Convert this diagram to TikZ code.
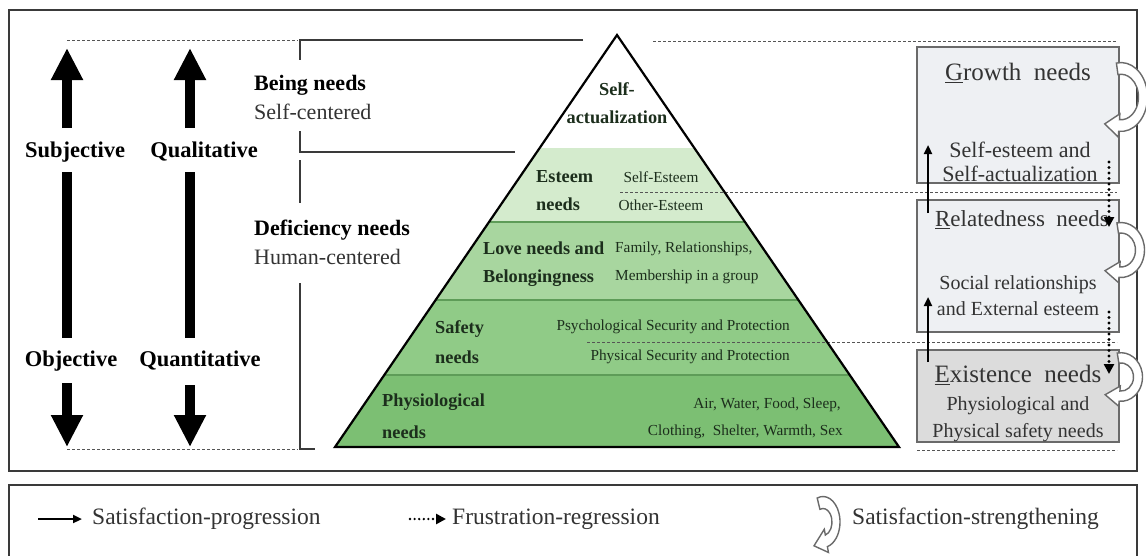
\documentclass[tikz,border=0pt]{standalone}
\usepackage{fontspec}
\setmainfont{Liberation Serif}
\usetikzlibrary{arrows.meta,calc}
\definecolor{framec}{HTML}{3A3A3A}
\definecolor{dashc}{HTML}{555555}
\definecolor{esteemc}{HTML}{D4EBCD}
\definecolor{lovec}{HTML}{A8D69F}
\definecolor{safec}{HTML}{90CB87}
\definecolor{physc}{HTML}{7CBF73}
\definecolor{layerc}{HTML}{5E9C58}
\definecolor{ptext}{HTML}{1C2E1C}
\definecolor{boxfill}{HTML}{EEF0F3}
\definecolor{exfill}{HTML}{DCDCDC}
\definecolor{boxline}{HTML}{6A6A6A}
\definecolor{greytext}{HTML}{333333}
\newcommand\hollowcurve[7]{%
\begin{scope}[shift={(#1,#2)},yscale=#7]
\filldraw[curvestyle] (#5:{#3+#4/2}) arc[start angle=#5,end angle=#6,radius={#3+#4/2}]
 -- (#6:{#3+#4}) -- ($(#6:#3)+({#6+90}:{1.6*#4})$) -- (#6:{#3-#4})
 -- (#6:{#3-#4/2}) arc[start angle=#6,end angle=#5,radius={#3-#4/2}] -- cycle;
\end{scope}}
\tikzset{
 curvestyle/.style={fill=white,draw=boxline,line width=1.4pt,line join=miter},
 frame/.style={draw=framec,line width=2.4pt},
 dsh/.style={draw=dashc,line width=1pt,dash pattern=on 3pt off 2pt},
 brk/.style={draw=framec,line width=2pt},
 bigarrow/.style={line width=9.5pt,-{Triangle[width=30pt,length=32pt]}},
 bigshaft/.style={line width=9.5pt},
 thinarrow/.style={line width=2.2pt,-{Triangle[width=8pt,length=9pt]}},
 dotarrow/.style={line width=3.4pt,dash pattern=on 0pt off 5.5pt,line cap=round,-{Triangle[width=10pt,length=10pt,line cap=butt]}},
 lbl/.style={font=\fontsize{22.5}{26}\selectfont\bfseries,inner sep=0pt},
 side/.style={inner sep=0pt,align=left,text=black,font=\fontsize{22}{29}\selectfont},
 pbold/.style={inner sep=0pt,text=ptext,font=\fontsize{18.3}{28}\selectfont\bfseries},
 psmall/.style={inner sep=0pt,text=ptext,font=\fontsize{15.3}{28}\selectfont},
 ergbox/.style={draw=boxline,line width=2pt,fill=boxfill,minimum width=202pt,inner sep=0pt},
 rtext/.style={inner sep=0pt,text=greytext,align=center},
 legtext/.style={inner sep=0pt,text=greytext,anchor=west,font=\fontsize{23.5}{26}\selectfont},
}
\begin{document}
\begin{tikzpicture}[x=1pt,y=-1pt]
\useasboundingbox (0,0) rectangle (1146,555);
\fill[white] (0,0) rectangle (1146,555);
% frames
\draw[frame] (9,10) rectangle (1137,471);
\draw[frame] (9,485) rectangle (1137,580);

% left labels and arrows
\node[lbl] (subj) at (75,152) {Subjective};
\node[lbl] (qual) at (204,152) {Qualitative};
\node[lbl] (obj) at (71,361) {Objective};
\node[lbl] (quan) at (200,361) {Quantitative};
\coordinate (s1) at (67,128); \coordinate (s0) at (67,48);
\coordinate (s2) at (67,172); \coordinate (s3) at (67,338);
\coordinate (s4) at (67,383); \coordinate (s5) at (67,447);
\coordinate (q1) at (190,128); \coordinate (q0) at (190,48);
\coordinate (q2) at (190,172); \coordinate (q3) at (190,338);
\coordinate (q4) at (190,385); \coordinate (q5) at (190,447);
\draw[bigarrow] (s1) -- (s0);
\draw[bigshaft] (s2) -- (s3);
\draw[bigarrow] (s4) -- (s5);
\draw[bigarrow] (q1) -- (q0);
\draw[bigshaft] (q2) -- (q3);
\draw[bigarrow] (q4) -- (q5);

% dashed guide lines
\draw[dsh] (67,40) -- (298,40);
\draw[dsh] (67,449) -- (298,449);
\draw[dsh] (653,41) -- (1117,41);
\draw[dsh] (620,192) -- (1117,192);
\draw[dsh] (587,342) -- (1117,342);
\draw[dsh] (917,450) -- (1117,450);

% brackets
\draw[brk] (583,40) -- (300,40) -- (300,60);
\draw[brk] (300,131) -- (300,152) -- (515,152);
\draw[brk] (300,160) -- (300,203);
\draw[brk] (300,283) -- (300,449) -- (315,449);
\node[side,anchor=west] (being) at (254,97) {\textbf{Being needs}\\{\color{greytext}Self-centered}};
\node[side,anchor=west] (defic) at (254,242) {\textbf{Deficiency needs}\\{\color{greytext}Human-centered}};

% pyramid
\coordinate (apex) at (617,35);
\coordinate (bl) at (335,447);
\coordinate (br) at (899,447);
\begin{scope}
\clip (apex) -- (bl) -- (br) -- cycle;
\fill[esteemc] (320,148) rectangle (910,222);
\fill[lovec] (320,222) rectangle (910,300);
\fill[safec] (320,300) rectangle (910,375);
\fill[physc] (320,375) rectangle (910,448);
\draw[layerc,line width=1.4pt] (320,222) -- (910,222);
\draw[layerc,line width=1.4pt] (320,300) -- (910,300);
\draw[layerc,line width=1.4pt] (320,375) -- (910,375);
\draw[dsh] (620,192) -- (910,192);
\draw[dsh] (587,342) -- (910,342);
\end{scope}
\draw[line width=2.2pt,line join=miter] (apex) -- (bl) -- (br) -- cycle;

\node[pbold,align=center] (sa) at (617,103) {Self-\\actualization};
\node[pbold,align=left,anchor=west] (est) at (536,191) {Esteem\\needs};
\node[psmall] (se) at (661,177) {Self-Esteem};
\node[psmall] (oe) at (661,205) {Other-Esteem};
\node[pbold,align=left,anchor=west] (love) at (483,264) {Love needs and\\Belongingness};
\node[psmall,align=left,anchor=west] (fam) at (615,263) {Family, Relationships,\\Membership in a group};
\node[pbold,align=left,anchor=west,font=\fontsize{18.3}{30}\selectfont\bfseries] (safe) at (435,342) {Safety\\needs};
\node[psmall,anchor=east] (psy) at (790,327) {Psychological Security and Protection};
\node[psmall,anchor=east] (phy) at (790,357) {Physical Security and Protection};
\node[pbold,align=left,anchor=west,font=\fontsize{18.3}{32}\selectfont\bfseries] (physio) at (382,416) {Physiological\\needs};
\node[psmall,anchor=east] (air) at (841,405) {Air, Water, Food, Sleep,};
\node[psmall,anchor=east] (clo) at (843,432) {Clothing,\ \ Shelter, Warmth, Sex};

% ERG boxes
\node[ergbox,minimum height=136pt] (growth) at (1018,115) {};
\node[ergbox,minimum height=132pt] (relat) at (1018,266) {};
\node[ergbox,minimum height=92pt,fill=exfill] (exist) at (1018,396) {};
\node[rtext,font=\fontsize{25}{28}\selectfont] (gt) at (1018,73) {\underline{G}rowth\ \ needs};
\node[rtext,font=\fontsize{22}{24}\selectfont] (gd) at (1020,162) {Self-esteem and\\Self-actualization};
\node[rtext,font=\fontsize{23}{26}\selectfont] (rt) at (1022,220) {\underline{R}elatedness\ \ needs};
\node[rtext,font=\fontsize{20}{26}\selectfont] (rd) at (1018,296) {Social relationships\\and External esteem};
\node[rtext,font=\fontsize{25}{28}\selectfont] (et) at (1018,375) {\underline{E}xistence\ \ needs};
\node[rtext,font=\fontsize{20}{27}\selectfont] (ed) at (1018,419) {Physiological and\\Physical safety needs};

\coordinate (p1a) at (928,213); \coordinate (p1b) at (928,145);
\coordinate (p2a) at (928,362); \coordinate (p2b) at (928,297);
\coordinate (f1a) at (1109,162); \coordinate (f1b) at (1109,227);
\coordinate (f2a) at (1109,312); \coordinate (f2b) at (1109,374);
\draw[thinarrow] (p1a) -- (p1b);
\draw[thinarrow] (p2a) -- (p2b);
\draw[dotarrow] (f1a) -- (f1b);
\draw[dotarrow] (f2a) -- (f2b);

\hollowcurve{1121}{97}{22}{9}{-100}{95}{1.3}
\hollowcurve{1121}{250}{19}{9}{-100}{95}{1.17}
\hollowcurve{1121}{377}{17}{9}{-100}{95}{1.13}

% legend
\coordinate (l1a) at (38,519); \coordinate (l1b) at (82,519);
\coordinate (l2a) at (410,519); \coordinate (l2b) at (446,519);
\draw[thinarrow] (l1a) -- (l1b);
\draw[dotarrow,line width=2.6pt,dash pattern=on 0pt off 4.6pt] (l2a) -- (l2b);
\node[legtext] (lt1) at (92,519) {Satisfaction-progression};
\node[legtext] (lt2) at (452,519) {Frustration-regression};
\hollowcurve{823}{522}{13}{8}{-110}{75}{1.5}
\node[legtext] (lt3) at (852,519) {Satisfaction-strengthening};
\end{tikzpicture}
\end{document}
